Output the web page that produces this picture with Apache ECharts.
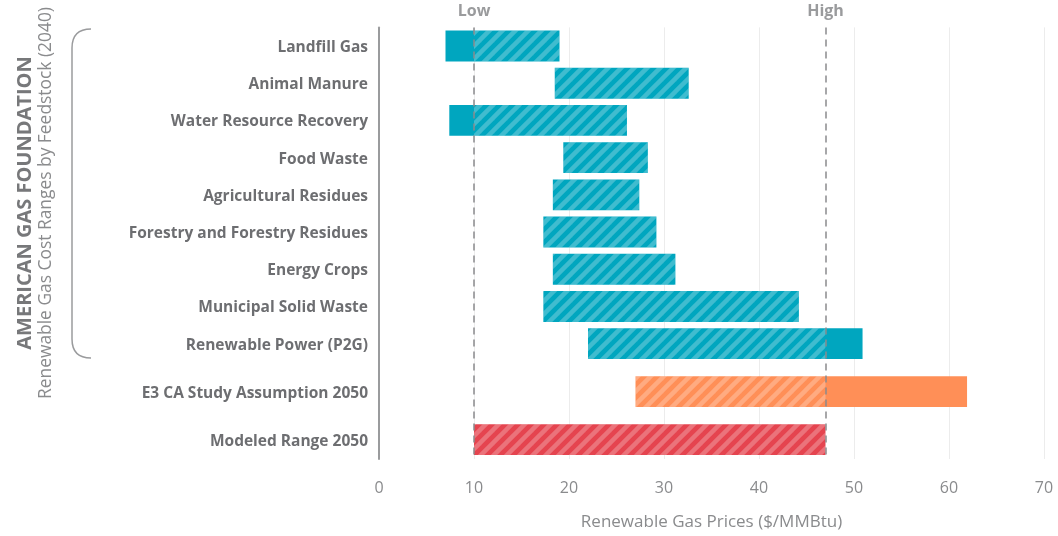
<!DOCTYPE html>
<html>
<head>
<meta charset="utf-8">
<title>Renewable Gas Cost Ranges</title>
<script src="https://cdn.jsdelivr.net/npm/echarts@6/dist/echarts.min.js"></script>
<style>
  html, body { margin: 0; padding: 0; background: #fff; }
  #chart { width: 1058px; height: 536px; }
</style>
</head>
<body>
<div id="chart"></div>
<script>
  // feedstock rows, top to bottom
  var categories = [
    'Landfill Gas', 'Animal Manure', 'Water Resource Recovery', 'Food Waste',
    'Agricultural Residues', 'Forestry and Forestry Residues', 'Energy Crops',
    'Municipal Solid Waste', 'Renewable Power (P2G)',
    'E3 CA Study Assumption 2050', 'Modeled Range 2050'
  ]
  var rangeStart = [7, 18.5, 7.4, 19.4, 18.3, 17.3, 18.3, 17.3, 22, 27, 10]
  var rangeEnd = [19, 32.6, 26.1, 28.3, 27.4, 29.2, 31.2, 44.2, 50.9, 61.9, 47]
  var rowGroup = ['agf', 'agf', 'agf', 'agf', 'agf', 'agf', 'agf', 'agf', 'agf', 'e3', 'modeled']
  var xTicks = [0, 10, 20, 30, 40, 50, 60, 70]
  var lowMark = 10
  var highMark = 47

  var groupColors = { agf: '#00a6bf', e3: '#ff8f57', modeled: '#e5444f' }
  var gapFactor = 1.29 // extra space before the two 2050 rows
  var fontFamily = '"Open Sans", Lato, sans-serif'

  // diagonal stripe overlay for the low..high part of each bar
  var tile = document.createElement('canvas')
  tile.width = 13
  tile.height = 13
  var tctx = tile.getContext('2d')
  tctx.strokeStyle = 'rgba(255,255,255,0.25)'
  tctx.lineWidth = 4.5
  for (var k = -1; k <= 1; k++) {
    tctx.beginPath()
    tctx.moveTo(k * 13 - 2, 15)
    tctx.lineTo(k * 13 + 15, -2)
    tctx.stroke()
  }
  var stripes = { image: tile, repeat: 'repeat' }

  var barData = categories.map(function (name, i) {
    var pos = i <= 8 ? i : 8 + (i - 8) * gapFactor
    return [rangeStart[i], rangeEnd[i], pos, i]
  })

  function renderBar (params, api) {
    var start = api.value(0)
    var end = api.value(1)
    var pos = api.value(2)
    var idx = api.value(3)
    var h = api.size([0, 1])[1] * 0.83
    var p0 = api.coord([start, pos])
    var p1 = api.coord([end, pos])
    var axisX = api.coord([0, pos])[0]
    var children = [{
      type: 'rect',
      shape: { x: p0[0], y: p0[1] - h / 2, width: p1[0] - p0[0], height: h },
      style: { fill: groupColors[rowGroup[idx]] }
    }]
    var hs = Math.max(start, lowMark)
    var he = Math.min(end, highMark)
    if (he > hs) {
      var q0 = api.coord([hs, pos])
      var q1 = api.coord([he, pos])
      children.push({
        type: 'rect',
        shape: { x: q0[0], y: q0[1] - h / 2, width: q1[0] - q0[0], height: h },
        style: { fill: stripes }
      })
    }
    children.push({
      type: 'text',
      x: axisX - 11,
      y: p0[1] + 1.5,
      style: {
        text: categories[idx],
        align: 'right',
        verticalAlign: 'middle',
        fill: '#6d6e71',
        font: 'bold 15.5px ' + fontFamily
      }
    })
    return { type: 'group', children: children }
  }

  var bracketStyle = { stroke: '#9a9b9d', lineWidth: 1.5, fill: 'none' }

  var chart = echarts.init(document.getElementById('chart'), null, { renderer: 'canvas' })
  var option = {
    animation: false,
    grid: { left: 379, right: 14, top: 27.4, bottom: 76.5, containLabel: false },
    xAxis: {
      type: 'value',
      min: xTicks[0],
      max: xTicks[xTicks.length - 1],
      interval: 10,
      name: 'Renewable Gas Prices ($/MMBtu)',
      nameLocation: 'middle',
      nameGap: 55,
      nameTextStyle: { color: '#8a8b8d', fontSize: 17, fontFamily: fontFamily },
      axisLine: { show: false },
      axisTick: { show: false },
      axisLabel: { color: '#8a8b8d', fontSize: 16, fontFamily: fontFamily, margin: 21 },
      splitLine: { show: true, lineStyle: { color: '#ececec', width: 1 } }
    },
    yAxis: {
      type: 'value',
      inverse: true,
      min: -0.5,
      max: 11.1,
      axisLine: { show: true, lineStyle: { color: '#9a9b9d', width: 2 } },
      axisTick: { show: false },
      axisLabel: { show: false },
      splitLine: { show: false }
    },
    graphic: [
      {
        type: 'bezierCurve',
        shape: { x1: 91, y1: 29, x2: 72, y2: 48, cpx1: 72, cpy1: 29 },
        style: bracketStyle
      },
      {
        type: 'line',
        shape: { x1: 72, y1: 48, x2: 72, y2: 339 },
        style: bracketStyle
      },
      {
        type: 'bezierCurve',
        shape: { x1: 72, y1: 339, x2: 91, y2: 358, cpx1: 72, cpy1: 358 },
        style: bracketStyle
      },
      {
        type: 'text',
        x: 25,
        y: 203,
        rotation: Math.PI / 2,
        style: {
          text: 'AMERICAN GAS FOUNDATION',
          align: 'center',
          verticalAlign: 'middle',
          fill: '#77787a',
          font: 'bold 20px ' + fontFamily
        }
      },
      {
        type: 'text',
        x: 46,
        y: 203,
        rotation: Math.PI / 2,
        style: {
          text: 'Renewable Gas Cost Ranges by Feedstock (2040)',
          align: 'center',
          verticalAlign: 'middle',
          fill: '#8a8b8d',
          font: '17.4px ' + fontFamily
        }
      }
    ],
    series: [{
      type: 'custom',
      renderItem: renderBar,
      encode: { x: [0, 1], y: 2 },
      data: barData,
      markLine: {
        silent: true,
        symbol: 'none',
        lineStyle: { color: '#8a8b8d', type: [7, 5], width: 1.5 },
        label: {
          position: 'start',
          distance: 8,
          color: '#9a9b9d',
          fontSize: 16,
          fontWeight: 'bold',
          fontFamily: fontFamily
        },
        data: [
          { xAxis: lowMark, label: { formatter: 'Low' } },
          { xAxis: highMark, label: { formatter: 'High' } }
        ]
      },
      z: 2
    }]
  }
  chart.setOption(option)
  window.addEventListener('resize', function () {
    chart.resize()
  })
</script>
</body>
</html>
